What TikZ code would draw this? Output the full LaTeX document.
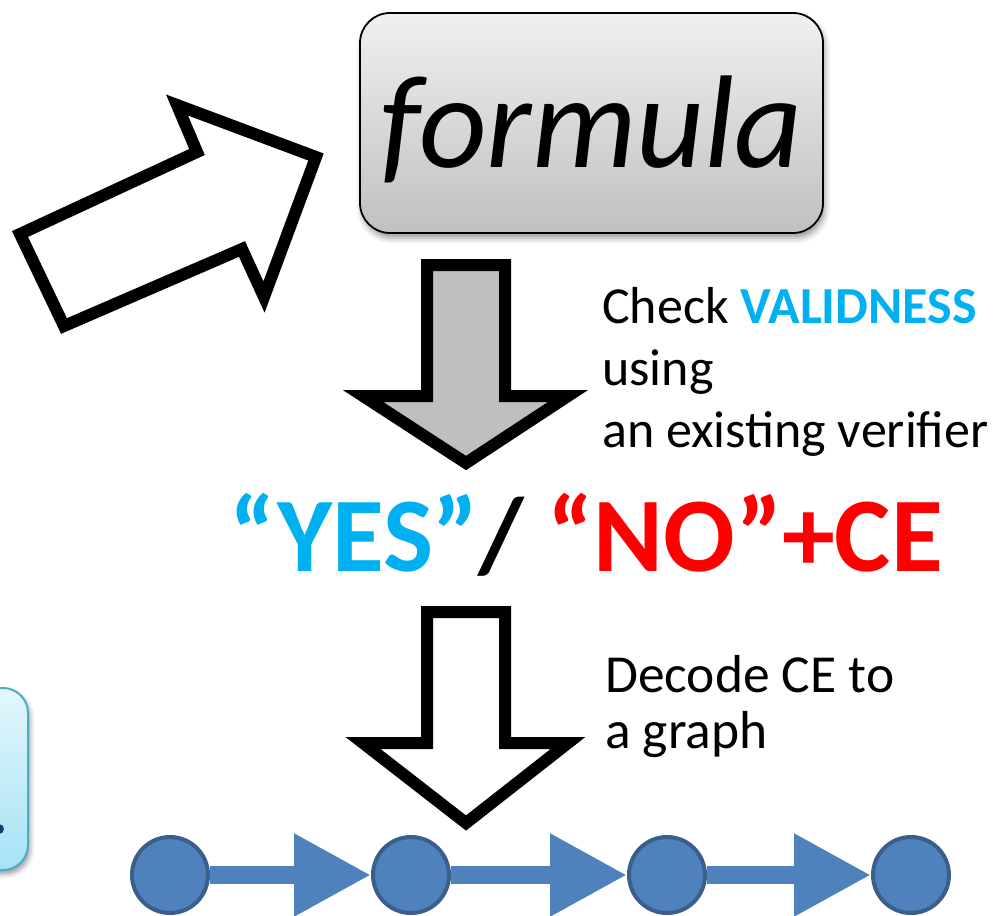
\documentclass[tikz,border=0pt]{standalone}
\usepackage{fontspec}
\setmainfont{Carlito}
\usetikzlibrary{arrows.meta,positioning,shadows.blur}
\definecolor{sky}{HTML}{00B0F0}
\definecolor{alert}{HTML}{FF0000}
\definecolor{gfill}{HTML}{4F81BD}
\definecolor{gedge}{HTML}{3A5F8B}
\definecolor{boxtop}{HTML}{F0F0F0}
\definecolor{boxbot}{HTML}{C0C0C0}
\definecolor{aquatop}{HTML}{E3F7FD}
\definecolor{aquabot}{HTML}{A6E2F6}
\definecolor{aquaedge}{HTML}{4BACC6}
\definecolor{navy}{HTML}{1F3A6B}
\definecolor{arrowgray}{HTML}{BFBFBF}
\tikzset{
  blockarrow/.style={draw=black,line width=12pt,fill=#1},
  formulabox/.style={draw=black,line width=1.8pt,rounded corners=30pt,top color=boxtop,bottom color=boxbot,
    minimum width=463pt,minimum height=220pt,inner sep=0pt,
    blur shadow={shadow xshift=2pt,shadow yshift=-5pt,shadow blur radius=6pt}},
  aquabox/.style={draw=aquaedge,line width=2pt,rounded corners=25pt,top color=aquatop,bottom color=aquabot,
    minimum width=76pt,minimum height=182pt,
    blur shadow={shadow xshift=2pt,shadow yshift=-4pt,shadow blur radius=5pt}},
  note/.style={anchor=base west,inner sep=0pt,align=left},
  gnode/.style={circle,draw=gedge,fill=gfill,line width=4pt,minimum size=76pt,inner sep=0pt},
  gflow/.style={draw=gfill,line width=18pt,-{Triangle[length=77pt,width=78pt]}}
}
\begin{document}
\begin{tikzpicture}[x=1pt,y=-1pt]
  \useasboundingbox (0,0) rectangle (1003,915);
  \clip (0,0) rectangle (1003,915);

  % box cut by the left edge
  \node[aquabox] (side) at (-10,779) {};
  \fill[navy] (-1,829) circle (5);

  % input arrow and formula
  \draw[blockarrow=white] (20,234) -- (64,326) -- (242,249) -- (264,297) -- (316,157) -- (177,105) -- (197,152) -- cycle;
  \node[formulabox,font=\fontsize{132}{136}\selectfont\itshape,text height=88pt,text depth=0pt] (formula) at (591.5,123) {formula};

  % check step
  \draw[blockarrow=arrowgray] (427,265) -- (505,265) -- (505,396) -- (568,396) -- (466,463) -- (363,396) -- (427,396) -- cycle;
  \node[note,font=\fontsize{52}{62}\selectfont] (check) at (602,447) {Check \textbf{\color{sky}VALIDNESS}\\using\\an existing verifier};

  \node[note,font=\fontsize{106}{110}\selectfont\bfseries] (verdict) at (229,571)
    {\color{sky}“YES”\color{black}/ \color{alert}“NO”+CE};

  % decode step
  \draw[blockarrow=white] (427,612) -- (505,612) -- (505,743) -- (568,743) -- (466,823) -- (363,743) -- (427,743) -- cycle;
  \node[note,font=\fontsize{53.5}{56}\selectfont] (decode) at (605,748) {Decode CE to\\a graph};

  % counterexample graph
  \node[gnode] (v1) at (170,875) {};
  \node[gnode] (v2) at (411,875) {};
  \node[gnode] (v3) at (667,875) {};
  \node[gnode] (v4) at (911,875) {};
  \draw[gflow] (v1) -- (v2);
  \draw[gflow] (v2) -- (v3);
  \draw[gflow] (v3) -- (v4);
\end{tikzpicture}
\end{document}
